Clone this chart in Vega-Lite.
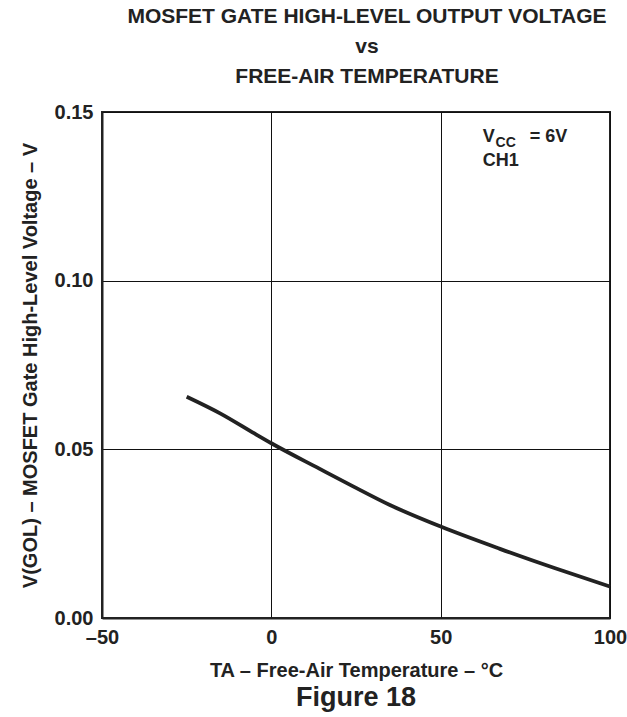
{
  "$schema": "https://vega.github.io/schema/vega-lite/v6.json",
  "autosize": "none",
  "width": 508,
  "height": 506,
  "padding": {"left": 102, "top": 112, "right": 17, "bottom": 99},
  "background": "white",
  "title": {
    "text": ["MOSFET GATE HIGH-LEVEL OUTPUT VOLTAGE", "vs", "FREE-AIR TEMPERATURE"],
    "font": "Liberation Sans",
    "fontSize": 21,
    "fontWeight": "bold",
    "color": "#222",
    "lineHeight": 30,
    "anchor": "middle",
    "dx": 11,
    "offset": 15
  },
  "config": {
    "font": "Liberation Sans",
    "view": {"stroke": "#222", "strokeWidth": 2},
    "axis": {
      "labelFont": "Liberation Sans",
      "labelFontWeight": "bold",
      "labelFontSize": 20,
      "labelColor": "#222",
      "labelFlush": false,
      "titleFont": "Liberation Sans",
      "titleFontWeight": "bold",
      "titleFontSize": 20,
      "titleColor": "#222",
      "gridColor": "#111",
      "gridWidth": 1,
      "gridOpacity": 1,
      "domainColor": "#222",
      "domainWidth": 2,
      "ticks": false,
      "labelPadding": 9
    }
  },
  "layer": [
    {
      "data": {"values": [
        {"T": -25, "V": 0.0656},
        {"T": -15, "V": 0.0606},
        {"T": -5, "V": 0.0547},
        {"T": 0, "V": 0.0518},
        {"T": 14.3, "V": 0.0442},
        {"T": 24, "V": 0.0391},
        {"T": 35, "V": 0.0335},
        {"T": 50, "V": 0.0271},
        {"T": 67.5, "V": 0.0205},
        {"T": 83.6, "V": 0.0148},
        {"T": 100, "V": 0.0093}
      ]},
      "mark": {"type": "line", "color": "#222", "strokeWidth": 3.8, "interpolate": "monotone", "clip": false},
      "encoding": {
        "x": {
          "field": "T", "type": "quantitative",
          "scale": {"domain": [-50, 100], "nice": false, "zero": false},
          "axis": {
            "values": [-50, 0, 50, 100],
            "labelExpr": "datum.value < 0 ? '–' + abs(datum.value) : datum.label",
            "title": "TA – Free-Air Temperature – °C",
            "titlePadding": 13
          }
        },
        "y": {
          "field": "V", "type": "quantitative",
          "scale": {"domain": [0, 0.15], "nice": false},
          "axis": {
            "values": [0, 0.05, 0.1, 0.15],
            "format": ".2f",
            "title": "V(GOL) – MOSFET Gate High-Level Voltage – V",
            "titlePadding": 14
          }
        }
      }
    },
    {
      "data": {"values": [
        {"T": 62.4, "V": 0.1411, "label": "V"},
        {"T": 76.3, "V": 0.1411, "label": "= 6V"},
        {"T": 62.4, "V": 0.1340, "label": "CH1"}
      ]},
      "mark": {"type": "text", "align": "left", "baseline": "alphabetic", "font": "Liberation Sans", "fontWeight": "bold", "fontSize": 18, "color": "#222"},
      "encoding": {
        "x": {"field": "T", "type": "quantitative"},
        "y": {"field": "V", "type": "quantitative"},
        "text": {"field": "label"}
      }
    },
    {
      "data": {"values": [
        {"T": 66.2, "V": 0.1396, "label": "CC"}
      ]},
      "mark": {"type": "text", "align": "left", "baseline": "alphabetic", "font": "Liberation Sans", "fontWeight": "bold", "fontSize": 14, "color": "#222"},
      "encoding": {
        "x": {"field": "T", "type": "quantitative"},
        "y": {"field": "V", "type": "quantitative"},
        "text": {"field": "label"}
      }
    },
    {
      "data": {"values": [
        {"T": 25, "V": -0.0237, "label": "Figure 18"}
      ]},
      "mark": {"type": "text", "align": "center", "baseline": "middle", "font": "Liberation Sans", "fontWeight": "bold", "fontSize": 27, "color": "#222", "clip": false},
      "encoding": {
        "x": {"field": "T", "type": "quantitative"},
        "y": {"field": "V", "type": "quantitative"},
        "text": {"field": "label"}
      }
    }
  ]
}
